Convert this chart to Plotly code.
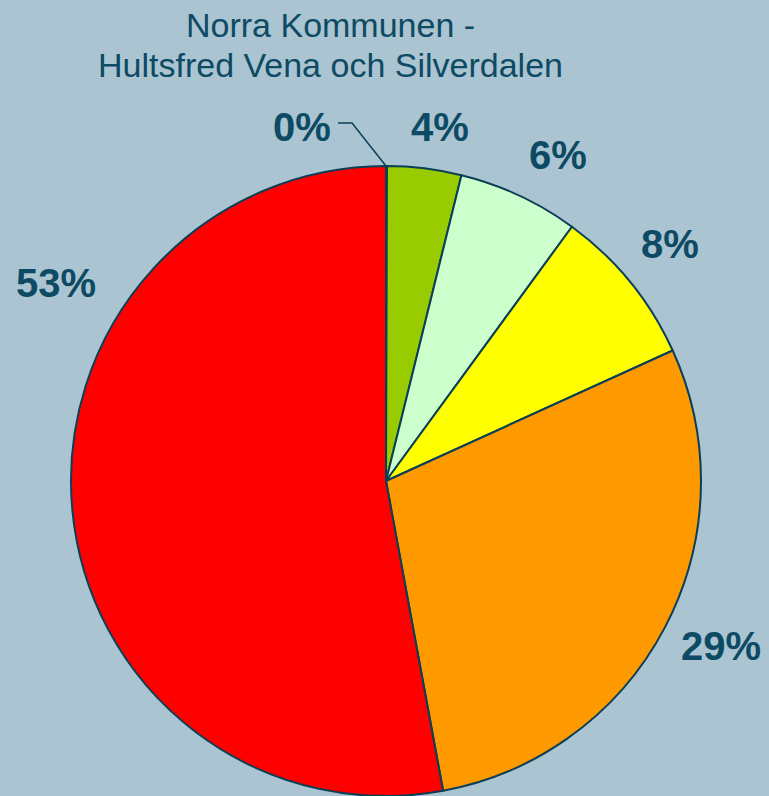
import math
import plotly.graph_objects as go

# ---- data ----
categories = ["Kategori 1", "Kategori 2", "Kategori 3", "Kategori 4", "Kategori 5", "Kategori 6"]
values = [0.05, 3.8, 6.2, 8.15, 28.9, 52.9]
colors = ["#339966", "#99CC00", "#CCFFCC", "#FFFF00", "#FF9900", "#FF0000"]
title_lines = ["Norra Kommunen -", "Hultsfred Vena och Silverdalen"]

# ---- layout constants ----
W, H = 769, 796
BG = "#ABC4D2"
TXT = "#0D4A63"
EDGE = "#0B3F55"
FONT = "Liberation Sans, Arial, sans-serif"
cx, cy, r = 386, 481, 315          # pie centre / radius in px
# label placement: (angle shift in degrees from slice middle, distance from centre in px)
label_place = [None, (1.7, 358), (2.8, 369), (-0.6, 370), (-1.3, 374), None]
label_override = {5: (56, 283), 0: (302, 127)}   # label centres in px
title_y = [25, 65]                 # title line centres in px
title_x = 330

fig = go.Figure()
fig.add_trace(go.Pie(
    labels=categories,
    values=values,
    sort=False,
    direction="clockwise",
    rotation=0,
    marker=dict(colors=colors, line=dict(color=EDGE, width=2)),
    textinfo="none",
    hoverinfo="label+percent",
    showlegend=False,
    domain=dict(x=[(cx - r) / W, (cx + r) / W], y=[max(0, (H - cy - r) / H), (H - cy + r) / H]),
))

total = sum(values)
cum = 0.0
annotations = []
for i, v in enumerate(values):
    mid_deg = (cum + v / 2) / total * 360
    cum += v
    if i in label_override:
        px, py = label_override[i]
    else:
        dshift, rr = label_place[i]
        a = math.radians(mid_deg + dshift)
        px = cx + rr * math.sin(a)
        py = cy - rr * math.cos(a)
    annotations.append(dict(
        x=px / W, y=1 - py / H, xref="paper", yref="paper",
        text=f"<b>{round(v / total * 100):.0f}%</b>", showarrow=False,
        xanchor="center", yanchor="middle",
        font=dict(family=FONT, size=40, color=TXT),
    ))

for line, ty in zip(title_lines, title_y):
    annotations.append(dict(
        x=title_x / W, y=1 - ty / H, xref="paper", yref="paper",
        text=line, showarrow=False,
        xanchor="center", yanchor="middle",
        font=dict(family=FONT, size=34, color=TXT),
    ))

# leader line for the 0% label
shapes = [dict(
    type="path", xref="paper", yref="paper",
    path=f"M {338/W},{1-123/H} L {352/W},{1-123/H} L {cx/W},{1-(cy-r)/H}",
    line=dict(color=EDGE, width=1.5),
)]

fig.update_layout(
    width=W, height=H,
    margin=dict(l=0, r=0, t=0, b=0),
    paper_bgcolor=BG, plot_bgcolor=BG,
    annotations=annotations,
    shapes=shapes,
)

fig.write_html(
    "out.html",
    config={"displayModeBar": False},
    post_script="document.body.style.margin='0';document.body.style.overflow='hidden';document.body.style.background='" + BG + "';",
)
